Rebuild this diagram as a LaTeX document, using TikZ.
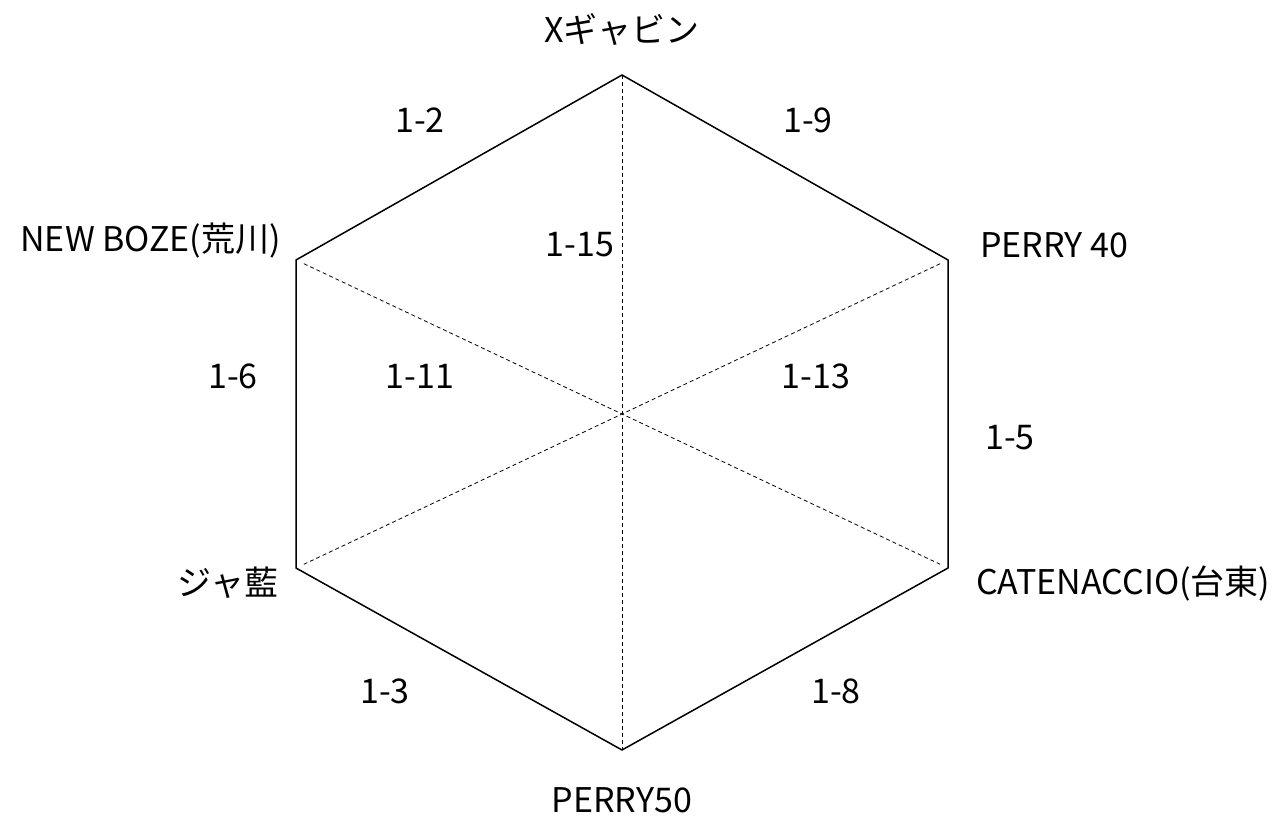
\documentclass[tikz,border=0pt]{standalone}
\usepackage{fontspec}
\usetikzlibrary{calc}
\setmainfont{Noto Sans CJK JP}
\begin{document}
\begin{tikzpicture}[x=1pt,y=-1pt,
  lbl/.style={font=\fontsize{34}{38}\selectfont, inner sep=0pt},
  edge/.style={line width=1.5pt, line join=miter},
  guide/.style={line width=0.8pt, dash pattern=on 4pt off 3pt}]
\useasboundingbox (0,0) rectangle (1286,816);
\coordinate (T) at (622,75);
\coordinate (UR) at (948,260);
\coordinate (LR) at (948,568);
\coordinate (B) at (622,750);
\coordinate (LL) at (296,568);
\coordinate (UL) at (296,260);
\draw[guide] (T) -- (B);
\draw[guide] ($(UL)!0.012!(LR)$) -- ($(UL)!0.988!(LR)$);
\draw[guide] ($(UR)!0.012!(LL)$) -- ($(UR)!0.988!(LL)$);
\draw[edge] (T) -- (UR) -- (LR) -- (B) -- (LL) -- (UL) -- cycle;
\node[lbl] (nT) at (622,30) {Xギャビン};
\node[lbl] (e12) at (420,120) {1-2};
\node[lbl] (e19) at (808,120) {1-9};
\node[lbl,anchor=east] (nUL) at (281,241) {NEW BOZE(荒川)};
\node[lbl] (e115) at (580,245) {1-15};
\node[lbl,anchor=west] (nUR) at (980,245) {PERRY 40};
\node[lbl] (e16) at (233,376) {1-6};
\node[lbl] (e111) at (420,376) {1-11};
\node[lbl] (e113) at (816,376) {1-13};
\node[lbl] (e15) at (1010,438) {1-5};
\node[lbl] (nLL) at (228,583) {ジャ藍};
\node[lbl,anchor=west] (nLR) at (976,583) {CATENACCIO(台東)};
\node[lbl] (e13) at (385,691) {1-3};
\node[lbl] (e18) at (836,691) {1-8};
\node[lbl] (nB) at (622,800) {PERRY50};
\end{tikzpicture}
\end{document}
